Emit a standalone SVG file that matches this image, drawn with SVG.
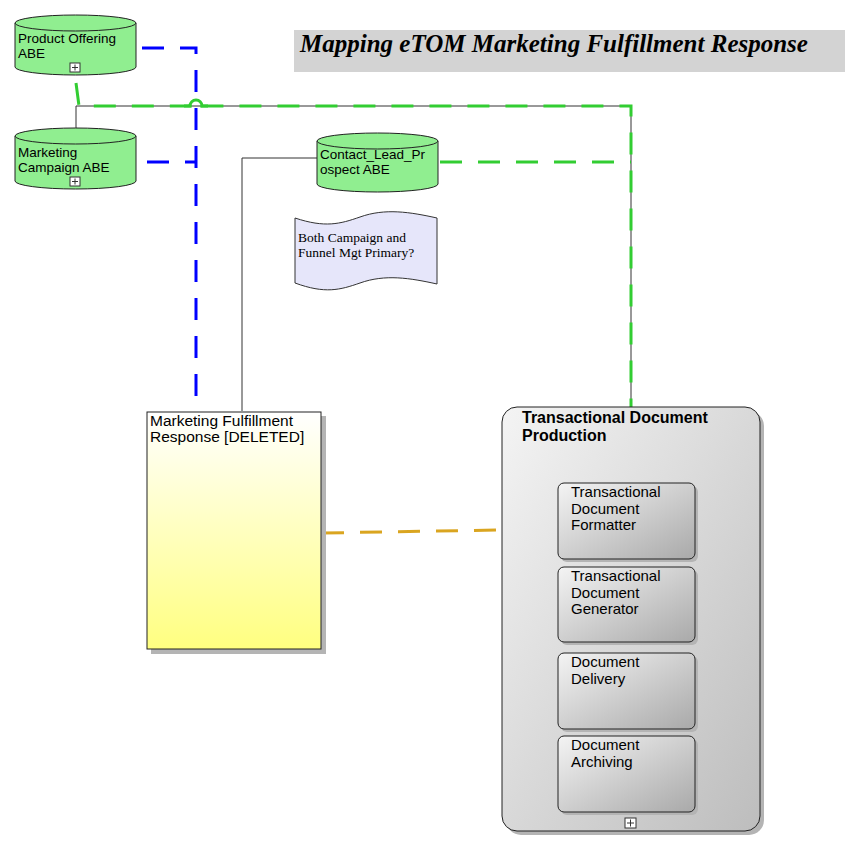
<svg xmlns="http://www.w3.org/2000/svg" width="861" height="850" viewBox="0 0 861 850">
<defs>
<linearGradient id="gYellow" x1="0" y1="0" x2="0" y2="1">
<stop offset="0" stop-color="#ffffff"/>
<stop offset="1" stop-color="#ffff80"/>
</linearGradient>
<linearGradient id="gCont" x1="0" y1="0" x2="1" y2="1">
<stop offset="0" stop-color="#f4f4f4"/>
<stop offset="1" stop-color="#bdbdbd"/>
</linearGradient>
<linearGradient id="gChild" x1="0" y1="0" x2="1" y2="1">
<stop offset="0" stop-color="#f4f4f4"/>
<stop offset="1" stop-color="#a9a9a9"/>
</linearGradient>
<style>
.cyl{fill:#90ee90;stroke:#222;stroke-width:1}
.lbl{font-family:"Liberation Sans",Arial,sans-serif;font-size:13.5px;fill:#000}
.lbl15{font-family:"Liberation Sans",Arial,sans-serif;font-size:15px;fill:#000}
.lblm{font-family:"Liberation Sans",Arial,sans-serif;font-size:15.5px;fill:#000}
.bold{font-family:"Liberation Sans",Arial,sans-serif;font-size:16px;font-weight:bold;fill:#000}
.serif{font-family:"Liberation Serif","Times New Roman",serif;font-size:13.5px;fill:#000}
.title{font-family:"Liberation Serif","Times New Roman",serif;font-size:25px;font-weight:bold;font-style:italic;fill:#000}
.plus{fill:#fff;stroke:#333;stroke-width:1}
.shadow{fill:#b4b4b4}
.child{fill:url(#gChild);stroke:#222;stroke-width:1}
.blue{fill:none;stroke:#0000ff;stroke-width:3;stroke-dasharray:22 16}
.green{fill:none;stroke:#32cd32;stroke-width:3;stroke-dasharray:22 16}
.greensolid{fill:none;stroke:#32cd32;stroke-width:3}
.orange{fill:none;stroke:#daa520;stroke-width:3;stroke-dasharray:22 16}
.thin{fill:none;stroke:#333;stroke-width:1}
</style>
</defs>

<g id="title">
<rect x="294" y="30" width="551" height="42" fill="#d3d3d3"/>
<text class="title" x="300" y="52">Mapping eTOM Marketing Fulfillment Response</text>
</g>

<g id="connectors">
<polyline class="thin" points="76,128 76,106 631,106 631,407"/>
<polyline class="thin" points="317,158 242,158 242,411"/>
<polyline class="blue" points="142,48 196,48 196,411"/>
<polyline class="blue" points="147,162 196,162"/>
<path class="green" d="M76,83 L79,106 L190,106 A6,6 0 0,1 202,106 L631,106 L631,407"/>
<path class="greensolid" d="M184,106 L190,106 A6,6 0 0,1 202,106 L208,106"/>
<polyline class="green" points="440,162 631,162"/>
<polyline class="orange" points="322,533 502,530"/>
</g>

<g id="product-offering">
<path class="cyl" d="M15,23 A60.5,8 0 0,1 136,23 L136,67 A60.5,8 0 0,1 15,67 Z"/>
<path class="cyl" fill="none" d="M15,23 A60.5,8 0 0,0 136,23"/>
<text class="lbl" x="18" y="43">Product Offering</text>
<text class="lbl" x="18" y="58">ABE</text>
<rect class="plus" x="70" y="63" width="10" height="9"/>
<path class="thin" d="M72,67.5 H78 M75,64.5 V70.5"/>
</g>

<g id="marketing-campaign">
<path class="cyl" d="M15,136 A60.5,8 0 0,1 136,136 L136,181 A60.5,8 0 0,1 15,181 Z"/>
<path class="cyl" fill="none" d="M15,136 A60.5,8 0 0,0 136,136"/>
<text class="lbl" x="18" y="157">Marketing</text>
<text class="lbl" x="18" y="172">Campaign ABE</text>
<rect class="plus" x="70" y="177" width="10" height="9"/>
<path class="thin" d="M72,181.5 H78 M75,178.5 V184.5"/>
</g>

<g id="contact-lead">
<path class="cyl" d="M317,141 A60.5,8 0 0,1 438,141 L438,184 A60.5,8 0 0,1 317,184 Z"/>
<path class="cyl" fill="none" d="M317,141 A60.5,8 0 0,0 438,141"/>
<text class="lbl" x="320" y="159">Contact_Lead_Pr</text>
<text class="lbl" x="320" y="174">ospect ABE</text>
</g>

<g id="note">
<path d="M295,218 C325,228 340,224 360,217 C385,208 410,212 437,218 L437,284 C410,278 385,274 360,283 C340,290 325,294 295,283 Z" fill="#e6e6fa" stroke="#333" stroke-width="1"/>
<text class="serif" x="298" y="242">Both Campaign and</text>
<text class="serif" x="298" y="257">Funnel Mgt Primary?</text>
</g>

<g id="mfr">
<rect class="shadow" x="151" y="416" width="175" height="238"/>
<rect x="147" y="412" width="174" height="237" fill="url(#gYellow)" stroke="#222" stroke-width="1"/>
<text class="lblm" x="150" y="426">Marketing Fulfillment</text>
<text class="lblm" x="150" y="442">Response [DELETED]</text>
</g>

<g id="tdp">
<rect class="shadow" x="506" y="411" width="258" height="424" rx="15"/>
<rect x="502" y="407" width="258" height="424" rx="15" fill="url(#gCont)" stroke="#222" stroke-width="1"/>
<text class="bold" x="522" y="423">Transactional Document</text>
<text class="bold" x="522" y="441">Production</text>
<rect class="plus" x="625" y="818" width="11" height="10"/>
<path class="thin" d="M627,823 H634 M630.5,819.5 V826.5"/>
</g>

<g id="formatter">
<rect class="shadow" x="561" y="486" width="137" height="76" rx="6"/>
<rect class="child" x="558" y="483" width="137" height="76" rx="6"/>
<text class="lbl15" x="571" y="497">Transactional</text>
<text class="lbl15" x="571" y="514">Document</text>
<text class="lbl15" x="571" y="530">Formatter</text>
</g>

<g id="generator">
<rect class="shadow" x="561" y="570" width="137" height="75" rx="6"/>
<rect class="child" x="558" y="567" width="137" height="75" rx="6"/>
<text class="lbl15" x="571" y="581">Transactional</text>
<text class="lbl15" x="571" y="598">Document</text>
<text class="lbl15" x="571" y="614">Generator</text>
</g>

<g id="delivery">
<rect class="shadow" x="561" y="656" width="137" height="76" rx="6"/>
<rect class="child" x="558" y="653" width="137" height="76" rx="6"/>
<text class="lbl15" x="571" y="667">Document</text>
<text class="lbl15" x="571" y="684">Delivery</text>
</g>

<g id="archiving">
<rect class="shadow" x="561" y="739" width="137" height="76" rx="6"/>
<rect class="child" x="558" y="736" width="137" height="76" rx="6"/>
<text class="lbl15" x="571" y="750">Document</text>
<text class="lbl15" x="571" y="767">Archiving</text>
</g>
</svg>
